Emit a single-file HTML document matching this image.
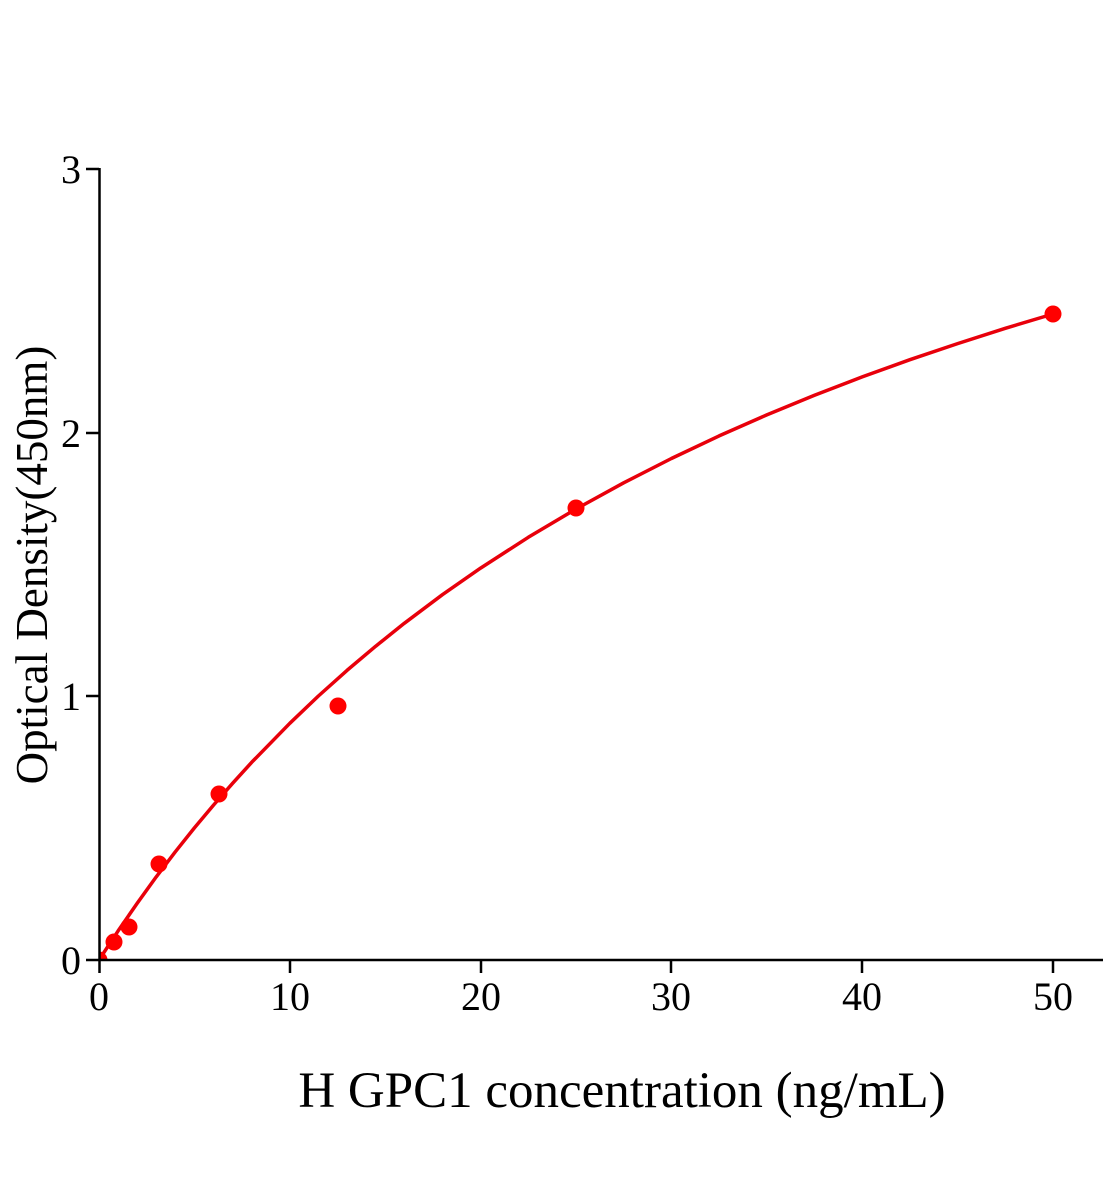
<!DOCTYPE html>
<html><head><style>html,body{margin:0;padding:0;background:#fff}svg{display:block}</style></head>
<body>
<svg width="1104" height="1200" viewBox="0 0 1104 1200" xmlns="http://www.w3.org/2000/svg">
<defs><clipPath id="c"><rect x="100" y="100" width="1004" height="859"/></clipPath></defs>
<g clip-path="url(#c)">
<polyline fill="none" stroke="#e8000b" stroke-width="3.5" stroke-linejoin="round" points="99,960 118.1,930.9 137.2,903.2 156.2,876.9 175.3,851.8 194.4,827.9 213.5,805.1 232.6,783.3 251.6,762.4 289.8,723.3 318.4,696 347,670.4 375.7,646.2 404.3,623.3 442.4,594.7 480.6,568.1 528.3,537.3 576,509 623.7,482.8 671.4,458.5 719.1,435.9 766.8,414.9 814.5,395.3 862.2,376.9 909.9,359.7 957.6,343.6 1005.3,328.3 1053,314"/>
<g fill="#f00">
<circle cx="99" cy="960" r="8.5"/>
<circle cx="114" cy="942" r="8.5"/>
<circle cx="129" cy="927" r="8.5"/>
<circle cx="159" cy="864" r="8.5"/>
<circle cx="219" cy="794" r="8.5"/>
<circle cx="338" cy="706" r="8.5"/>
<circle cx="576" cy="508" r="8.5"/>
<circle cx="1053" cy="314" r="8.5"/>
</g>
</g>
<g stroke="#000" stroke-width="2.5" fill="none">
<path d="M99.5,168 V961 M86,960 H1103"/>
<path d="M86,169 H99 M86,433 H99 M86,696 H99"/>
<path d="M99.5,960 V973 M290,960 V973 M481,960 V973 M671,960 V973 M862,960 V973 M1053,960 V973"/>
</g>
<g font-family="Liberation Serif, serif" font-size="40" fill="#000">
<g text-anchor="end">
<text x="81" y="183">3</text>
<text x="81" y="447">2</text>
<text x="81" y="710">1</text>
<text x="81" y="974">0</text>
</g>
<g text-anchor="middle">
<text x="99" y="1010">0</text>
<text x="290" y="1010">10</text>
<text x="481" y="1010">20</text>
<text x="671" y="1010">30</text>
<text x="862" y="1010">40</text>
<text x="1053" y="1010">50</text>
</g>
<text x="47" y="565" text-anchor="middle" font-size="45" transform="rotate(-90 47 565)">Optical Density(450nm)</text>
<text x="622" y="1107" text-anchor="middle" font-size="51">H GPC1 concentration (ng/mL)</text>
</g>
</svg>
</body></html>
